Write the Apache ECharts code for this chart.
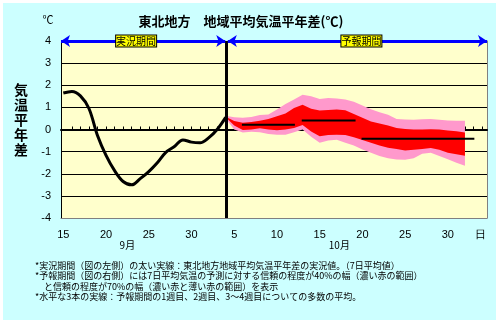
<!DOCTYPE html>
<html>
<head>
<meta charset="utf-8">
<script src="https://cdn.jsdelivr.net/npm/echarts@6/dist/echarts.min.js"></script>
<style>
html,body{margin:0;padding:0;background:#fff;}
#c{width:500px;height:325px;}
</style>
</head>
<body>
<div id="c"></div>
<script>
// ---- data ----
const xMin = -0.27, xMax = 49.58;          // day index (0 = 9/15)
const dayLabelPos = [0, 5, 10, 15, 20, 25, 30, 35, 40, 45, 48.8];
const dayLabels = ['15', '20', '25', '30', '5', '10', '15', '20', '25', '30', '日'];
const monthLabelPos = [7.5, 32.3];
const monthLabels = ['9月', '10月'];
const yTicks = [-4, -3, -2, -1, 0, 1, 2, 3, 4];

const obsDays = [0, 1, 2, 3, 4, 5, 6, 7, 8, 9, 10, 11, 12, 13, 14, 15, 16, 17, 18, 19];
const obsValues = [1.65, 1.72, 1.52, 0.95, -0.27, -1.17, -1.86, -2.35, -2.5, -2.22, -1.9, -1.5, -1.03, -0.77, -0.47, -0.57, -0.6, -0.38, 0.0, 0.55];

const fcstDays = [19, 20, 21, 22, 23, 24, 25, 26, 27, 28, 29, 30, 31, 32, 33, 34, 35, 36, 37, 38, 39, 40, 41, 42, 43, 44, 45, 46, 47];
const outerHigh = [0.62, 0.55, 0.53, 0.57, 0.66, 0.68, 0.9, 1.15, 1.36, 1.57, 1.5, 1.38, 1.42, 1.4, 1.36, 1.25, 1.08, 0.92, 0.78, 0.67, 0.47, 0.45, 0.44, 0.46, 0.47, 0.44, 0.41, 0.4, 0.4];
const innerHigh = [0.58, 0.38, 0.3, 0.34, 0.4, 0.47, 0.6, 0.72, 0.97, 1.12, 0.94, 0.86, 0.88, 0.9, 0.87, 0.7, 0.53, 0.36, 0.27, 0.18, 0.07, 0.02, 0.0, 0.0, 0.01, 0.0, -0.04, -0.08, -0.13];
const innerLow = [0.55, 0.18, -0.02, 0.0, 0.06, 0.0, -0.03, 0.0, 0.07, 0.2, -0.09, -0.31, -0.25, -0.24, -0.25, -0.35, -0.48, -0.6, -0.72, -0.82, -0.88, -0.95, -0.92, -0.88, -0.84, -0.92, -1.05, -1.12, -1.19];
const outerLow = [0.5, 0.0, -0.13, -0.1, -0.12, -0.2, -0.24, -0.24, -0.12, 0.0, -0.33, -0.6, -0.5, -0.46, -0.6, -0.72, -0.9, -1.05, -1.2, -1.3, -1.36, -1.37, -1.3, -1.1, -1.05, -1.2, -1.35, -1.5, -1.64];

const meanStart = [20.9, 27.9, 34.9];
const meanEnd = [27.1, 34.2, 48.1];
const meanValues = [0.22, 0.41, -0.42];

const forecastStart = 19.1;
const obsPeriod = [xMin, 18.95];
const fcstPeriod = [19.25, xMax];
const periodLabels = ['実況期間', '予報期間'];

const titleText = '東北地方　地域平均気温平年差(℃)';
const yName = '気温平年差';
const notes = [
  '*実況期間（図の左側）の太い実線：東北地方地域平均気温平年差の実況値。（7日平均値）',
  '*予報期間（図の右側）には7日平均気温の予測に対する信頼の程度が40%の幅（濃い赤の範囲）',
  '　と信頼の程度が70%の幅（濃い赤と薄い赤の範囲）を表示',
  '*水平な3本の実線：予報期間の1週目、2週目、3～4週目についての多数の平均。'
];

// ---- chart ----
const JP = '"Noto Sans CJK JP", sans-serif';
const NUM = '"Liberation Sans", Arial, sans-serif';
const tickDays = [];
for (let d = 1; d <= 49; d++) tickDays.push(d);

function band(high, low, color) {
  return {
    type: 'custom',
    xAxisIndex: 0, yAxisIndex: 0,
    silent: true,
    clip: true,
    data: [[fcstDays[0], high[0]]],
    encode: { x: 0, y: 1 },
    renderItem: function (params, api) {
      const pts = [];
      for (let i = 0; i < fcstDays.length; i++) pts.push(api.coord([fcstDays[i], high[i]]));
      for (let i = fcstDays.length - 1; i >= 0; i--) pts.push(api.coord([fcstDays[i], low[i]]));
      return { type: 'polygon', shape: { points: pts }, style: { fill: color, stroke: null } };
    },
    z: 3
  };
}

const chart = echarts.init(document.getElementById('c'), null, { renderer: 'canvas' });

const series = [
  band(outerHigh, outerLow, '#FF99CC'),
  band(innerHigh, innerLow, '#FF0000'),
  {
    type: 'line',
    data: obsDays.map((d, i) => [d, obsValues[i]]),
    smooth: 0.35,
    symbol: 'none',
    lineStyle: { color: '#000', width: 3 },
    z: 5,
    markLine: {
      silent: true,
      symbol: ['arrow', 'arrow'],
      symbolSize: [9, 9],
      lineStyle: { color: '#0000FF', width: 3, type: 'solid' },
      label: {
        show: true, position: 'middle', distance: 0,
        color: '#000', fontFamily: JP, fontSize: 10,
        backgroundColor: '#FFFF00', borderColor: '#000', borderWidth: 1,
        padding: [0, 0], verticalAlign: 'middle', lineHeight: 11
      },
      data: [
        [{ coord: [obsPeriod[0], 4], label: { formatter: periodLabels[0], offset: [-7, 0] } }, { coord: [obsPeriod[1], 4] }],
        [{ coord: [fcstPeriod[0], 4], label: { formatter: periodLabels[1], offset: [4, 0] } }, { coord: [fcstPeriod[1], 4] }]
      ],
      z: 6
    }
  },
  {
    type: 'line',
    data: [],
    symbol: 'none',
    z: 4,
    markLine: {
      silent: true,
      symbol: ['none', 'none'],
      label: { show: false },
      lineStyle: { color: '#000', width: 3, type: 'solid' },
      data: [{ xAxis: forecastStart }]
    }
  }
];
meanValues.forEach((v, i) => {
  series.push({
    type: 'line',
    data: [[meanStart[i], v], [meanEnd[i], v]],
    symbol: 'none',
    lineStyle: { color: '#000', width: 2 },
    z: 6
  });
});

const graphics = [
  { type: 'rect', left: 3, top: 3, shape: { width: 493, height: 317 }, style: { fill: '#CCFFFF' }, z: -10, silent: true },
  { type: 'text', x: 241, y: 21, style: { text: titleText, font: 'bold 13px ' + JP, fill: '#000', align: 'center', verticalAlign: 'middle' } },
  { type: 'text', x: 48, y: 20, style: { text: '℃', font: '11px ' + JP, fill: '#000', align: 'center', verticalAlign: 'middle' } },
  { type: 'text', x: 21, y: 120, style: { text: yName.split('').join('\n'), font: 'bold 14px ' + JP, lineHeight: 15, fill: '#000', align: 'center', verticalAlign: 'middle' } }
];
const noteX = [35, 35, 35, 35];
const noteY = [265.5, 276, 286.5, 297];
notes.forEach((t, i) => {
  graphics.push({ type: 'text', x: noteX[i], y: noteY[i], style: { text: t, font: '9px ' + JP, fill: '#000', align: 'left', verticalAlign: 'middle' } });
});

chart.setOption({
  animation: false,
  backgroundColor: '#FFFFFF',
  grid: { left: 61, right: 13, top: 41, bottom: 107, show: true, backgroundColor: '#FFFFCC', borderWidth: 0 },
  xAxis: [
    {
      type: 'value', min: xMin, max: xMax, position: 'bottom',
      axisLine: { show: true, onZero: false, lineStyle: { color: '#808080', width: 1 } },
      axisTick: { show: false },
      splitLine: { show: false },
      axisLabel: {
        show: true, customValues: dayLabelPos, margin: 11,
        color: '#000', fontFamily: NUM, fontSize: 11,
        formatter: function (v) { const i = dayLabelPos.indexOf(v); return i >= 0 ? dayLabels[i] : ''; }
      }
    },
    {
      type: 'value', min: xMin, max: xMax, position: 'bottom',
      axisLine: { show: true, onZero: true, lineStyle: { color: '#000', width: 2 } },
      axisTick: { show: true, inside: true, length: 3, customValues: tickDays, lineStyle: { color: '#000', width: 1 } },
      axisLabel: { show: false },
      splitLine: { show: false }
    },
    {
      type: 'value', min: xMin, max: xMax, position: 'bottom',
      axisLine: { show: false, onZero: false },
      axisTick: { show: false },
      splitLine: { show: false },
      axisLabel: {
        show: true, customValues: monthLabelPos, margin: 22,
        color: '#000', fontFamily: JP, fontSize: 10,
        formatter: function (v) { const i = monthLabelPos.indexOf(v); return i >= 0 ? monthLabels[i] : ''; }
      }
    }
  ],
  yAxis: [
    {
      type: 'value', min: -4, max: 4, interval: 1,
      axisLine: { show: true, onZero: false, lineStyle: { color: '#000', width: 1 } },
      axisTick: { show: false },
      axisLabel: { color: '#000', fontFamily: NUM, fontSize: 11, margin: 10 },
      splitLine: { show: true, lineStyle: { color: ['#808080', '#000', '#000', '#000', '#000', '#000', '#000', '#000', '#000'], width: 1 } }
    },
    {
      type: 'value', min: -4, max: 4, interval: 1, position: 'right',
      axisLine: { show: true, onZero: false, lineStyle: { color: '#808080', width: 1 } },
      axisTick: { show: false }, axisLabel: { show: false }, splitLine: { show: false }
    }
  ],
  graphic: graphics,
  series: series
});
</script>
</body>
</html>
